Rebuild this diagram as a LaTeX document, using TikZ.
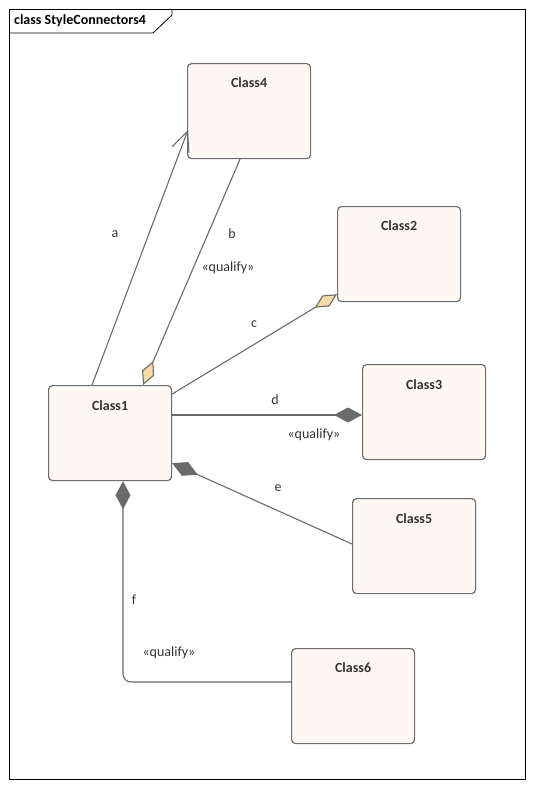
\documentclass[tikz,border=0pt]{standalone}
\usepackage{fontspec}
\setmainfont{Carlito}
\usetikzlibrary{arrows.meta}
\definecolor{boxfill}{HTML}{FDF8F4}
\definecolor{boxline}{HTML}{6E6E6E}
\definecolor{conn}{HTML}{6A6A6A}
\definecolor{tanfill}{HTML}{F7DCA8}
\definecolor{txt}{HTML}{333333}
\tikzset{
  cls/.style={draw=boxline, fill=boxfill, line width=1.2pt, rounded corners=4pt,
    minimum width=123pt, minimum height=95pt, anchor=north west, inner sep=0pt},
  clsname/.style={font=\fontsize{14}{16}\selectfont\bfseries, text=txt, anchor=center, inner sep=0pt},
  lbl/.style={font=\fontsize{14}{16}\selectfont, text=txt, anchor=center, inner sep=0pt},
  connector/.style={draw=conn, line width=1.1pt},
  tandiamond/.style={-{Diamond[length=26pt,width=13pt,fill=tanfill]}},
  darkdiamond/.style={-{Diamond[length=28pt,width=15pt,fill=conn]}},
  openarrow/.style={-{Straight Barb[length=20pt,width=18pt]}}
}
\begin{document}
\begin{tikzpicture}[x=1pt,y=-1pt]
\useasboundingbox (0,0) rectangle (534,787);
% frame
\draw[black, line width=0.8pt] (9,9) rectangle (525,779);
\draw[black, line width=0.8pt] (9,33) -- (153,33) -- (172,15) -- (172,9);
\node[font=\fontsize{14}{16}\selectfont\bfseries, anchor=west, inner sep=0pt] (title) at (14,21) {class StyleConnectors4};
% classes
\node[cls] (c4) at (187,63) {};
\node[cls] (c2) at (337,206) {};
\node[cls] (c3) at (362,364) {};
\node[cls] (c1) at (48,385) {};
\node[cls] (c5) at (352,498) {};
\node[cls] (c6) at (291,648) {};
\node[clsname] (c4t) at ([yshift=-20pt]c4.north) {Class4};
\node[clsname] (c2t) at ([yshift=-20pt]c2.north) {Class2};
\node[clsname] (c3t) at ([yshift=-21pt]c3.north) {Class3};
\node[clsname] (c1t) at ([yshift=-21pt]c1.north) {Class1};
\node[clsname] (c5t) at ([yshift=-21pt]c5.north) {Class5};
\node[clsname] (c6t) at ([yshift=-20pt]c6.north) {Class6};
% connectors
\draw[connector, openarrow] ([xshift=44pt]c1.north west) -- ([xshift=1pt,yshift=-67pt]c4.north west);
\draw[connector, tandiamond] ([xshift=53pt]c4.south west) -- ([xshift=95pt]c1.north west);
\draw[connector, tandiamond] ([yshift=-9pt]c1.north east) -- ([yshift=8pt]c2.south west);
\draw[connector, darkdiamond] ([yshift=-30pt]c1.north east) -- ([yshift=-51pt]c3.north west);
\draw[connector, darkdiamond] ([yshift=-46pt]c5.north west) -- ([yshift=18pt]c1.south east);
\draw[connector, darkdiamond, rounded corners=8pt] ([yshift=-34pt]c6.north west) -- (123,682) -- ([xshift=75pt]c1.south west);
% labels
\node[lbl] (la) at (115,234) {a};
\node[lbl] (lb) at (232,234) {b};
\node[lbl] (lbq) at (228,268) {«qualify»};
\node[lbl] (lc) at (254,324) {c};
\node[lbl] (ld) at (275,400) {d};
\node[lbl] (ldq) at (314,435) {«qualify»};
\node[lbl] (le) at (278,488) {e};
\node[lbl] (lf) at (134,600) {f};
\node[lbl] (lfq) at (169,653) {«qualify»};
\end{tikzpicture}
\end{document}
